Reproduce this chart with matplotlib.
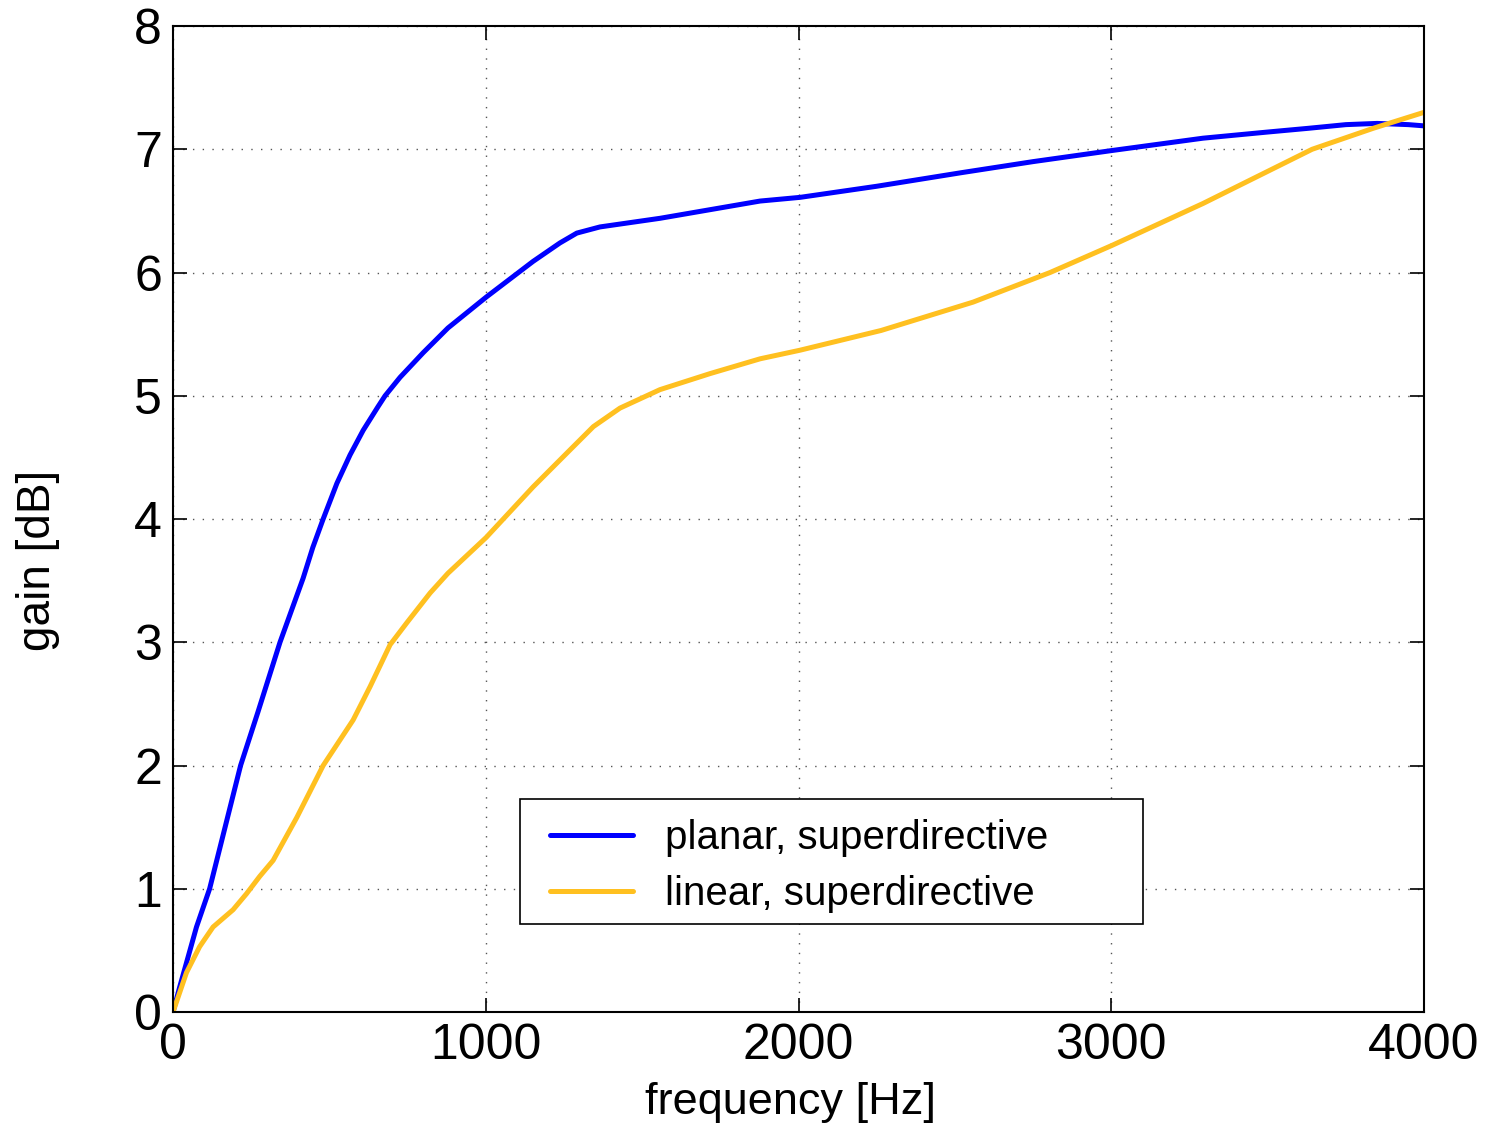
import matplotlib
matplotlib.use("Agg")
import matplotlib.pyplot as plt
from matplotlib.patches import Rectangle

plt.rcParams['font.family'] = ['Liberation Sans', 'DejaVu Sans']

# gain curves of the two array geometries
freq_planar = [0, 21, 75, 117, 216, 271, 342, 416, 447, 480, 524, 566, 608,
               655, 678, 726, 800, 879, 1001, 1151, 1237, 1291, 1365, 1557,
               1877, 2005, 2250, 2520, 2750, 3002, 3293, 3500, 3629, 3750,
               3850, 3950, 4000]
gain_planar = [0, 0.20, 0.69, 1.00, 2.00, 2.43, 3.00, 3.52, 3.77, 4.00, 4.29,
               4.52, 4.72, 4.91, 5.00, 5.15, 5.35, 5.55, 5.80, 6.09, 6.24,
               6.32, 6.37, 6.44, 6.58, 6.61, 6.70, 6.81, 6.90, 6.99, 7.09,
               7.14, 7.17, 7.20, 7.21, 7.20, 7.19]

freq_linear = [0, 43, 85, 128, 192, 235, 277, 320, 396, 480, 576, 630, 694,
               748, 822, 879, 1001, 1151, 1269, 1344, 1429, 1557, 1717, 1877,
               2005, 2264, 2558, 2804, 3002, 3293, 3642, 3837, 4000]
gain_linear = [0, 0.32, 0.53, 0.69, 0.83, 0.96, 1.10, 1.23, 1.58, 2.00, 2.37,
               2.64, 2.98, 3.16, 3.40, 3.56, 3.85, 4.26, 4.56, 4.75, 4.90,
               5.05, 5.18, 5.30, 5.37, 5.53, 5.76, 6.00, 6.22, 6.56, 7.00,
               7.17, 7.30]

labels = ['planar, superdirective', 'linear, superdirective']
colors = ['#0000FF', '#FFC020']

xticks = [0, 1000, 2000, 3000, 4000]
yticks = [0, 1, 2, 3, 4, 5, 6, 7, 8]

fig = plt.figure(figsize=(14.89, 11.27), dpi=100)
ax = fig.add_axes([0.1162, 0.1020, 0.8402, 0.8749])

ax.plot(freq_planar, gain_planar, color=colors[0], lw=3.6, label=labels[0],
        solid_joinstyle='round', solid_capstyle='round')
ax.plot(freq_linear, gain_linear, color=colors[1], lw=3.6, label=labels[1],
        solid_joinstyle='round', solid_capstyle='round')

ax.set_xlim(0, 4000)
ax.set_ylim(0, 8)
ax.set_xticks(xticks)
ax.set_yticks(yticks)
ax.tick_params(direction='in', length=10, width=1.2, labelsize=36,
               top=True, right=True, pad=8)
for s in ax.spines.values():
    s.set_linewidth(1.5)

ax.grid(True, linestyle=(0, (1, 6)), color='#555555', linewidth=1.0)

ax.set_xlabel('frequency [Hz]', fontsize=32.5, va='top')
ax.xaxis.set_label_coords(0.4932, -0.071)
ax.set_ylabel('gain [dB]', fontsize=33)
ax.yaxis.set_label_coords(-0.0903, 0.458)

# legend box with generous right margin
box = Rectangle((0.2774, 0.0892), 0.498, 0.127, transform=ax.transAxes,
                facecolor='white', edgecolor='black', linewidth=1.2,
                zorder=4)
ax.add_patch(box)
leg = ax.legend(loc='upper left', bbox_to_anchor=(0.3014, 0.1957),
                borderaxespad=0, borderpad=0, fontsize=29, frameon=False,
                handlelength=2.05, handletextpad=0.8, labelspacing=0.45)
leg.set_zorder(5)

fig.savefig('out.png', dpi=100)
